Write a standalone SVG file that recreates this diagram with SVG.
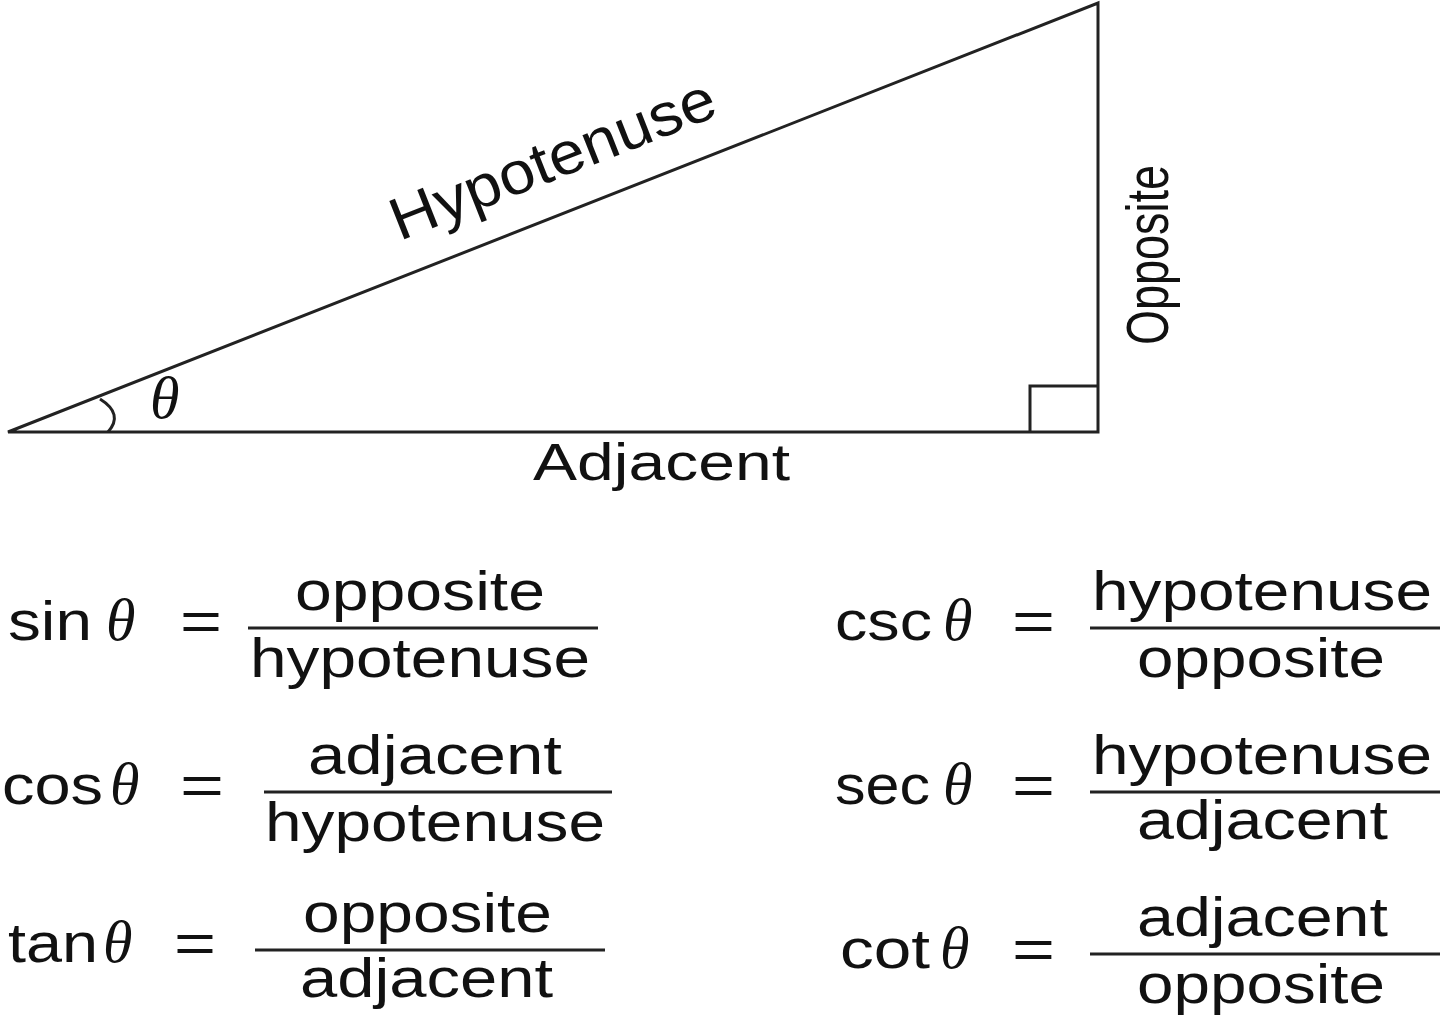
<svg xmlns="http://www.w3.org/2000/svg" width="1440" height="1015" viewBox="0 0 1440 1015">
<style>
.l{stroke:#222;stroke-width:3;fill:none}
.t{font-family:"Liberation Sans",Arial,sans-serif;fill:#111}
.e{font-family:"Liberation Sans",Arial,sans-serif;font-size:56px;fill:#111}
.th{font-family:"Liberation Serif","Times New Roman",serif;font-style:italic;font-size:60px;fill:#111}
.c{text-anchor:middle}
</style>
<rect width="1440" height="1015" fill="#fff"/>
<g id="triangle">
<path class="l" d="M8 432 L1098 432 L1098 3 Z"/>
<path class="l" d="M1030 432 V386 H1098"/>
<path class="l" d="M100 399 Q124 414 108 432"/>
<text class="th" x="150" y="418" font-size="50">θ</text>
<text class="t c" font-size="60" transform="translate(560,178) rotate(-21.5)" textLength="345" lengthAdjust="spacingAndGlyphs">Hypotenuse</text>
<text class="t c" font-size="60" transform="translate(1168,255) rotate(-90)" textLength="180" lengthAdjust="spacingAndGlyphs">Opposite</text>
<text class="t" font-size="52" x="533" y="480" textLength="257" lengthAdjust="spacingAndGlyphs">Adjacent</text>
</g>
<g id="formulas">
<text class="e" x="8" y="640" textLength="84" lengthAdjust="spacingAndGlyphs">sin</text><text class="th" x="106" y="640">θ</text><text class="e" x="180" y="640" textLength="42" lengthAdjust="spacingAndGlyphs">=</text>
<text class="e" x="295" y="610" textLength="250" lengthAdjust="spacingAndGlyphs">opposite</text><line class="l" x1="248" y1="628" x2="598" y2="628"/><text class="e" x="250" y="677" textLength="340" lengthAdjust="spacingAndGlyphs">hypotenuse</text>
<text class="e" x="2" y="804" textLength="101" lengthAdjust="spacingAndGlyphs">cos</text><text class="th" x="110" y="804">θ</text><text class="e" x="180" y="804" textLength="44" lengthAdjust="spacingAndGlyphs">=</text>
<text class="e" x="308" y="774" textLength="254" lengthAdjust="spacingAndGlyphs">adjacent</text><line class="l" x1="264" y1="792" x2="612" y2="792"/><text class="e" x="265" y="841" textLength="340" lengthAdjust="spacingAndGlyphs">hypotenuse</text>
<text class="e" x="8" y="962" textLength="90" lengthAdjust="spacingAndGlyphs">tan</text><text class="th" x="103" y="962">θ</text><text class="e" x="174" y="962" textLength="42" lengthAdjust="spacingAndGlyphs">=</text>
<text class="e" x="303" y="932" textLength="249" lengthAdjust="spacingAndGlyphs">opposite</text><line class="l" x1="255" y1="950" x2="605" y2="950"/><text class="e" x="300" y="997" textLength="253" lengthAdjust="spacingAndGlyphs">adjacent</text>
<text class="e" x="835" y="640" textLength="97" lengthAdjust="spacingAndGlyphs">csc</text><text class="th" x="943" y="640">θ</text><text class="e" x="1012" y="640" textLength="43" lengthAdjust="spacingAndGlyphs">=</text>
<text class="e" x="1092" y="610" textLength="340" lengthAdjust="spacingAndGlyphs">hypotenuse</text><line class="l" x1="1090" y1="628" x2="1440" y2="628"/><text class="e" x="1137" y="677" textLength="248" lengthAdjust="spacingAndGlyphs">opposite</text>
<text class="e" x="835" y="804" textLength="95" lengthAdjust="spacingAndGlyphs">sec</text><text class="th" x="943" y="804">θ</text><text class="e" x="1012" y="804" textLength="43" lengthAdjust="spacingAndGlyphs">=</text>
<text class="e" x="1092" y="774" textLength="340" lengthAdjust="spacingAndGlyphs">hypotenuse</text><line class="l" x1="1090" y1="792" x2="1440" y2="792"/><text class="e" x="1137" y="839" textLength="251" lengthAdjust="spacingAndGlyphs">adjacent</text>
<text class="e" x="840" y="968" textLength="90" lengthAdjust="spacingAndGlyphs">cot</text><text class="th" x="940" y="968">θ</text><text class="e" x="1012" y="968" textLength="43" lengthAdjust="spacingAndGlyphs">=</text>
<text class="e" x="1137" y="936" textLength="251" lengthAdjust="spacingAndGlyphs">adjacent</text><line class="l" x1="1090" y1="954" x2="1440" y2="954"/><text class="e" x="1137" y="1003" textLength="248" lengthAdjust="spacingAndGlyphs">opposite</text>
</g>
</svg>
